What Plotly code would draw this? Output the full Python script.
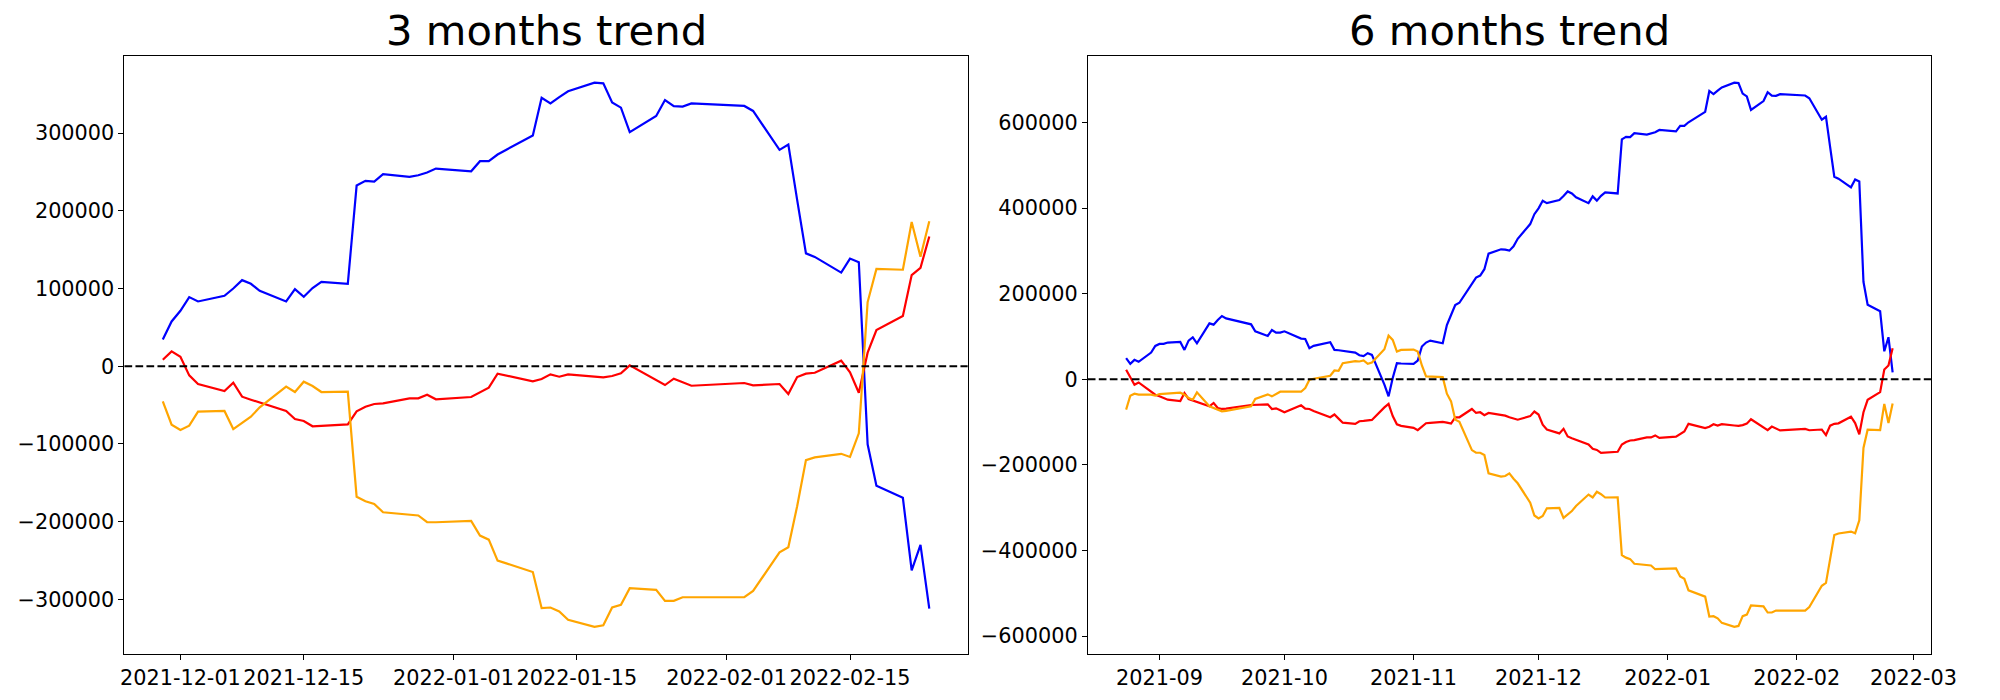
import pandas as pd
import plotly.graph_objects as go

# ---------------- data ----------------
# Korean exchange trading days (weekends and market holidays excluded)
KRX_HOLIDAYS = ["2021-09-20", "2021-09-21", "2021-09-22", "2021-10-04", "2021-10-11",
                "2021-12-31", "2022-01-31", "2022-02-01", "2022-02-02"]
dates_3m = pd.bdate_range("2021-11-29", "2022-02-24", freq="C", holidays=KRX_HOLIDAYS)
dates_6m = pd.bdate_range("2021-08-24", "2022-02-24", freq="C", holidays=KRX_HOLIDAYS)

blue_3m = [34500, 57600, 71300, 88900, 83300, 90600, 100000, 110700, 106000, 97000,
           83300, 99200, 89300, 100500, 108600, 106000, 232400, 238400, 237500, 247000,
           243500, 245700, 249100, 254300, 250800, 263700, 263700, 272300, 278500, 296700,
           345400, 338000, 346200, 353700, 364700, 363800, 339400, 332600, 301200, 321800,
           342400, 334600, 334000, 338000, 334800, 328400, 278300, 285200, 214000, 145200,
           140600, 120400, 138500, 133800, -100400, -153800, -169200, -262700, -229800, -311900]
red_3m = [8400, 19100, 12200, -11800, -22900, -31900, -21200, -39200, -43100, -46900,
          -57600, -67900, -70500, -77300, -76900, -74800, -58000, -52100, -48600, -47800,
          -41300, -41300, -36600, -42600, -39600, -33600, -27600, -9600, -12200, -19500,
          -16500, -10500, -13500, -10500, -13500, -14300, -12600, -9200, 1100, -17600,
          -24200, -16100, -20800, -25100, -21600, -24600, -22900, -35800, -13900, -9600,
          -8400, 7100, -7900, -34100, 17400, 46500, 64500, 117200, 126600, 166900]
orange_3m = [-45200, -75200, -82000, -76500, -58500, -57600, -80800, -73000, -64900, -52900,
             -26300, -33200, -19900, -25500, -33200, -32800, -168000, -173700, -177100, -187900,
             -190900, -192000, -200700, -200700, -199000, -217800, -223100, -250100, -253600, -264800,
             -311200, -310400, -315500, -326100, -335200, -333200, -310400, -306800, -285500, -287600,
             -301800, -301800, -297200, -297200, -297200, -289100, -239400, -232800, -180100, -120800,
             -117200, -112700, -116700, -86300, 82500, 125100, 124100, 185500, 140800, 186500]

blue_6m = [49200, 36000, 45300, 40700, 62400, 77900,
           82600, 82600, 85700, 87200, 68600, 90300, 98100, 84100,
           130600, 127500, 138400, 147700, 142200,
           128300, 112000, 101200, 115100, 108900, 108900,
           112000, 95000, 94200, 72500, 77900,
           86400, 68600, 67800, 66300,
           62400, 56200, 53900, 60900, 57000,
           -12600, -39900, 3000, 37600, 36800,
           36000, 43800, 76400, 85700, 90300,
           84100, 126700, 150000, 173300, 178700,
           223600, 237600, 242300, 257000, 293400,
           303500, 302700, 300400, 310500, 328000,
           362500, 385600, 399300, 416900, 411300, 418600, 428000, 438700, 434000, 425000,
           411300, 427200, 417300, 428500, 436600, 434000, 560400, 566400, 565500, 575000,
           571500, 573700, 577100, 582300, 578800, 591700, 591700, 600300, 606500, 624700,
           673400, 666000, 674200, 681700, 692700, 691800, 667400, 660600, 629200, 649800,
           670400, 662600, 662000, 666000, 662800, 656400, 606300, 613200, 542000, 473200,
           468600, 448400, 466500, 461800, 227600, 174200, 158800, 65300, 98200, 16100]
red_6m = [22100, 5000, -12800, -7400, -28300, -36000,
          -39900, -44600, -47700, -50800, -32200, -46100, -49200, -52300,
          -63200, -55400, -67100, -69400, -68600,
          -60100, -59300, -58500, -69400, -67800, -72500,
          -77100, -60900, -68600, -69400, -74000,
          -88600, -82300, -92000, -101500,
          -104300, -98100, -97300, -96500, -95000,
          -65800, -57400, -86000, -105300, -108900,
          -113600, -119000, -110500, -102700, -101900,
          -99600, -101200, -103500, -88800, -88800,
          -69400, -78700, -77100, -84100, -78700,
          -82600, -84900, -88800, -91000, -94500,
          -86100, -75400, -82300, -106300, -117400, -126400, -115700, -133700, -137600, -141400,
          -152100, -162400, -165000, -171800, -171400, -169300, -152500, -146600, -143100, -142300,
          -135800, -135800, -131100, -137100, -134100, -128100, -122100, -104100, -106700, -114000,
          -111000, -105000, -108000, -105000, -108000, -108800, -107100, -103700, -93400, -112100,
          -118700, -110600, -115300, -119600, -116100, -119100, -117400, -130300, -108400, -104100,
          -102900, -87400, -102400, -128600, -77100, -48000, -30000, 22700, 32100, 72400]
orange_6m = [-70900, -38400, -33700, -36000, -36000, -38400,
             -34500, -33700, -32900, -31400, -36000, -43800, -47700, -30600,
             -63200, -67100, -70900, -74800, -74000,
             -63200, -46100, -35300, -39900, -34500, -29100,
             -29100, -29100, -20500, -1200, 1200,
             8100, 20500, 19800, 37600,
             42200, 41500, 43800, 36000, 39100,
             70200, 101900, 91900, 64700, 68600,
             69400, 64700, 32200, 6600, 5800,
             5000, -33700, -51600, -94200, -99600,
             -165500, -171700, -171700, -177100, -219800,
             -227500, -225900, -219800, -232200, -243000,
             -288200, -318200, -325000, -319500, -301500, -300600, -323800, -316000, -307900, -295900,
             -269300, -276200, -262900, -268500, -276200, -275800, -411000, -416700, -420100, -430900,
             -433900, -435000, -443700, -443700, -442000, -460800, -466100, -493100, -496600, -507800,
             -554200, -553400, -558500, -569100, -578200, -576200, -553400, -549800, -528500, -530600,
             -544800, -544800, -540200, -540200, -540200, -532100, -482400, -475800, -423100, -363800,
             -360200, -355700, -359700, -329300, -160500, -117900, -118900, -57500, -102200, -56500]

titles = ["3 months trend", "6 months trend"]
xticks_3m = ["2021-12-01", "2021-12-15", "2022-01-01", "2022-01-15", "2022-02-01", "2022-02-15"]
xticks_6m = ["2021-09-01", "2021-10-01", "2021-11-01", "2021-12-01", "2022-01-01", "2022-02-01", "2022-03-01"]
xticklabels_6m = ["2021-09", "2021-10", "2021-11", "2021-12", "2022-01", "2022-02", "2022-03"]
yticks_3m = [-300000, -200000, -100000, 0, 100000, 200000, 300000]
yticks_6m = [-600000, -400000, -200000, 0, 200000, 400000, 600000]

assert len(dates_3m) == len(blue_3m) == len(red_3m) == len(orange_3m)
assert len(dates_6m) == len(blue_6m) == len(red_6m) == len(orange_6m)

# ---------------- figure ----------------
W, H = 2000, 700
FONT = "DejaVu Sans"
fig = go.Figure()

panels = [
    (dates_3m, blue_3m, red_3m, orange_3m, "x", "y"),
    (dates_6m, blue_6m, red_6m, orange_6m, "x2", "y2"),
]
for dates, b, r, o, xa, ya in panels:
    for vals, col in ((b, "blue"), (r, "red"), (o, "orange")):
        fig.add_trace(go.Scatter(x=dates, y=vals, mode="lines", xaxis=xa, yaxis=ya,
                                 line=dict(color=col, width=2.2), showlegend=False,
                                 hoverinfo="skip"))


def xrange_of(dates):
    span = dates[-1] - dates[0]
    return [dates[0] - span * 0.05, dates[-1] + span * 0.05]


def yrange_of(*series):
    lo = min(min(s) for s in series)
    hi = max(max(s) for s in series)
    pad = (hi - lo) * 0.05
    return [lo - pad, hi + pad]


def fmt(v):
    return ("\u2212" + str(abs(v))) if v < 0 else str(v)


axis_common = dict(showline=True, linecolor="black", linewidth=1, mirror=True,
                   ticks="outside", ticklen=5, tickwidth=1, tickcolor="black",
                   showgrid=False, zeroline=False,
                   tickfont=dict(family=FONT, size=20.8, color="black"))

xd1 = [122.3 / W, 978.3 / W]
xd2 = [1100.3 / W, 1956.3 / W]
yd = [(H - 654) / H, (H - 55.5) / H]

fig.update_layout(
    width=W, height=H, autosize=False,
    margin=dict(l=0, r=0, t=0, b=0),
    paper_bgcolor="white", plot_bgcolor="white",
    xaxis=dict(domain=xd1, anchor="y", type="date", range=xrange_of(dates_3m),
               tickvals=xticks_3m, ticktext=xticks_3m, **axis_common),
    yaxis=dict(domain=yd, anchor="x", range=yrange_of(blue_3m, red_3m, orange_3m),
               tickvals=yticks_3m, ticktext=[fmt(v) for v in yticks_3m], **axis_common),
    xaxis2=dict(domain=xd2, anchor="y2", type="date", range=xrange_of(dates_6m),
                tickvals=xticks_6m, ticktext=xticklabels_6m, **axis_common),
    yaxis2=dict(domain=yd, anchor="x2", range=yrange_of(blue_6m, red_6m, orange_6m),
                tickvals=yticks_6m, ticktext=[fmt(v) for v in yticks_6m], **axis_common),
)

for xr, yr in (("x", "y"), ("x2", "y2")):
    fig.add_shape(type="line", xref=xr + " domain", yref=yr, x0=0, x1=1, y0=0, y1=0,
                  line=dict(color="black", width=2, dash="7.7px,3.3px"), layer="above")

for title, dom in zip(titles, (xd1, xd2)):
    fig.add_annotation(text=title, xref="paper", yref="paper",
                       x=(dom[0] + dom[1]) / 2, y=yd[1], xanchor="center", yanchor="bottom",
                       yshift=-2, showarrow=False,
                       font=dict(family=FONT, size=41.7, color="black"))

fig.write_html("out.html", config={"displayModeBar": False},
               post_script="document.body.style.margin='0px';")
